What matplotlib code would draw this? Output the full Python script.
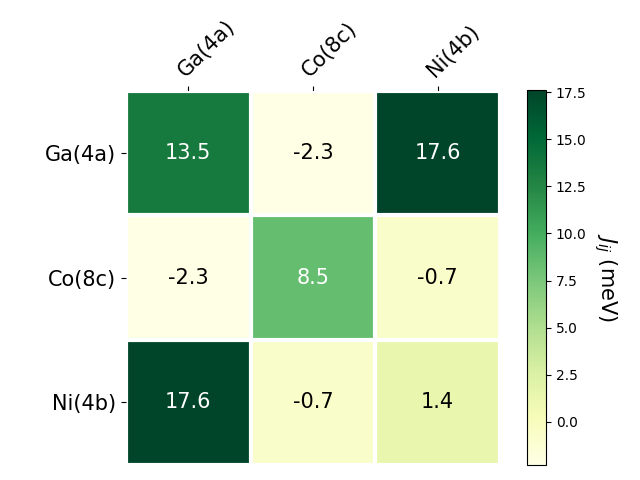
import matplotlib.pyplot as plt
import numpy as np

# site labels and exchange constants J_ij (meV)
sites = ['Ga(4a)', 'Co(8c)', 'Ni(4b)']
jij = np.array([
    [13.5, -2.3, 17.6],
    [-2.3, 8.5, -0.7],
    [17.6, -0.7, 1.4],
])

fig = plt.figure(figsize=(6.4, 4.8), dpi=100)
ax = fig.add_axes([0.197, 0.031, 0.584, 0.781])
cax = fig.add_axes([0.823, 0.031, 0.030, 0.781])

im = ax.imshow(jij, cmap='YlGn', vmin=jij.min(), vmax=jij.max())
cbar = fig.colorbar(im, cax=cax)
cbar.ax.set_ylabel('$J_{ij}$ (meV)', rotation=-90, va='bottom', fontsize=15)

ax.set_xticks(np.arange(len(sites)))
ax.set_yticks(np.arange(len(sites)))
ax.set_xticklabels(sites, fontsize=15)
ax.set_yticklabels(sites, fontsize=15)
ax.tick_params(top=True, bottom=False, labeltop=True, labelbottom=False)
plt.setp(ax.get_xticklabels(), rotation=45, ha='left', rotation_mode='anchor')

for s in ax.spines.values():
    s.set_visible(False)
ax.set_xticks(np.arange(len(sites) + 1) - 0.5, minor=True)
ax.set_yticks(np.arange(len(sites) + 1) - 0.5, minor=True)
ax.grid(which='minor', color='w', linestyle='-', linewidth=3)
ax.tick_params(which='minor', bottom=False, left=False, top=False)

thresh = 5.0
for i in range(len(sites)):
    for j in range(len(sites)):
        val = jij[i, j]
        ax.text(j, i, f'{val:.1f}', ha='center', va='center', fontsize=15,
                color='white' if val > thresh else 'black')

plt.savefig('out.png', dpi=100)
